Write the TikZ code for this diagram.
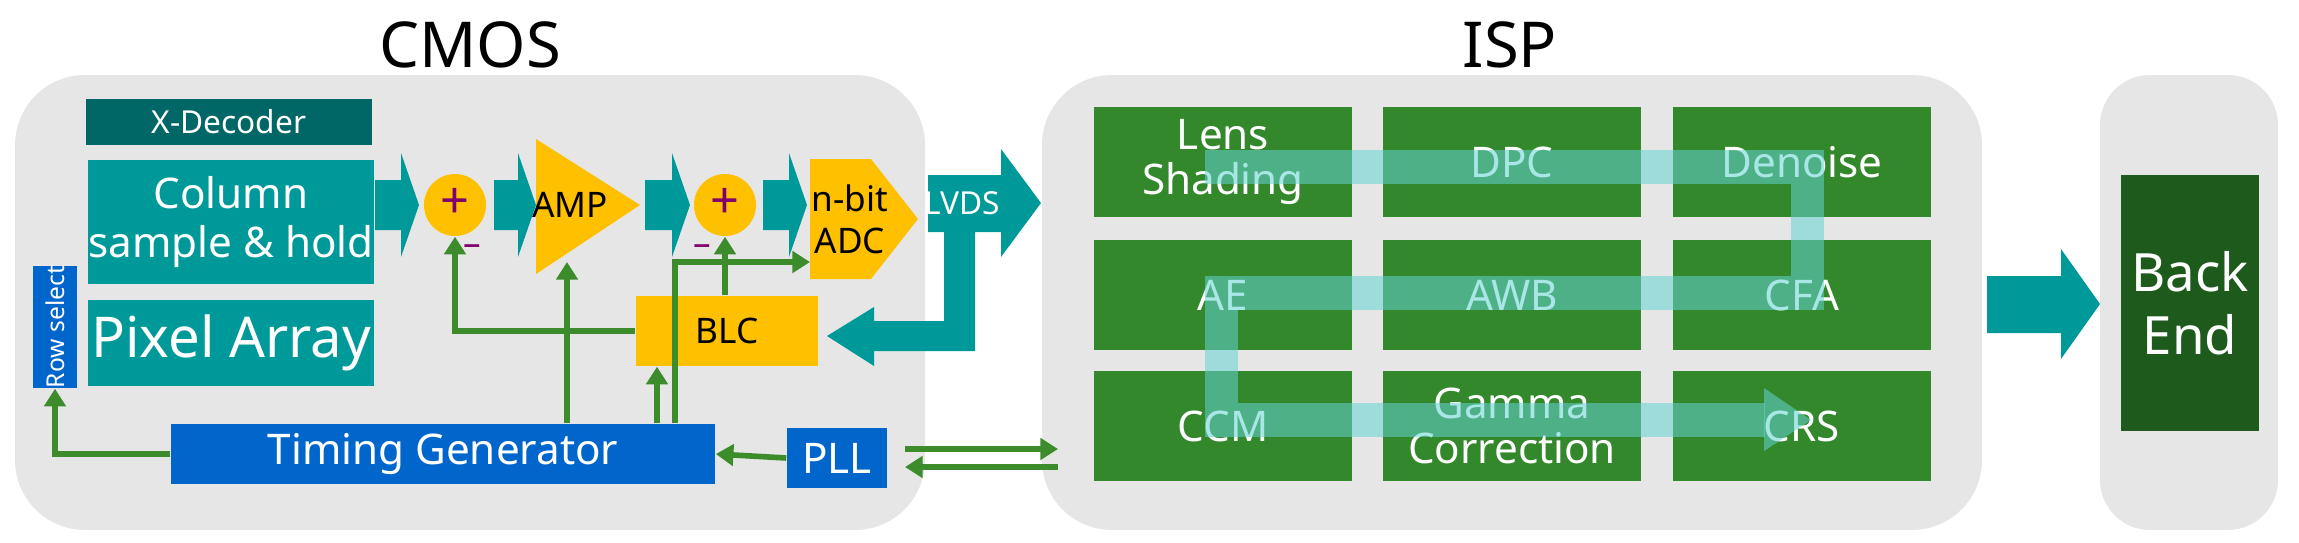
\documentclass[tikz,border=0pt]{standalone}
\usepackage{fontspec}
\setmainfont{Noto Sans}
\usetikzlibrary{shapes.geometric,arrows.meta,positioning,calc}
\definecolor{panel}{RGB}{230,230,230}
\definecolor{teal1}{RGB}{0,153,153}
\definecolor{tealdk}{RGB}{0,102,102}
\definecolor{amber}{RGB}{255,192,0}
\definecolor{blue1}{RGB}{0,102,204}
\definecolor{ispgreen}{RGB}{52,136,44}
\definecolor{bkgreen}{RGB}{30,90,28}
\definecolor{wire}{RGB}{60,140,44}
\definecolor{plum}{RGB}{128,0,110}
\definecolor{band}{RGB}{100,210,210}
\begin{document}
\begin{tikzpicture}[x=0.01cm, y=-0.01cm, font=\bfseries]
	\tikzstyle{box} = [rectangle, text centered, inner sep=0pt, align=center]
	\tikzstyle{teal} = [box, fill=teal1, text=white]
	\tikzstyle{isp} = [box, fill=ispgreen, text=white, minimum width=2.57cm, minimum height=1.1cm, font=\bfseries\fontsize{12}{13}\selectfont]
	\tikzstyle{sum} = [circle, fill=amber, minimum size=0.62cm, inner sep=0pt]
	\tikzstyle{sig} = [wire, line width=1.6pt, -{Triangle[length=5pt,width=6pt]}]
	\useasboundingbox (0,0) rectangle (2299,542);
	% panels
	\fill[panel, rounded corners=0.7cm] (15,75) rectangle (925,530);
	\fill[panel, rounded corners=0.7cm] (1042,75) rectangle (1982,530);
	\fill[panel, rounded corners=0.5cm] (2100,75) rectangle (2278,530);
	\node[font=\bfseries\fontsize{18}{20}\selectfont] (cmos) at (470,45) {CMOS};
	\node[font=\bfseries\fontsize{18}{20}\selectfont] (ispt) at (1510,45) {ISP};
	% CMOS blocks
	\node (xdec) [box, fill=tealdk, text=white, minimum width=2.86cm, minimum height=0.45cm, font=\bfseries\small] at (229,122) {X-Decoder};
	\node (col) [teal, minimum width=2.85cm, minimum height=1.23cm, font=\bfseries\large] at (231,222) {Column\\sample \& hold};
	\node (pix) [teal, minimum width=2.85cm, minimum height=0.86cm, font=\bfseries\fontsize{16}{18}\selectfont] at (231,343) {Pixel Array};
	\node (row) [box, fill=blue1, text=white, minimum width=1.19cm, minimum height=0.44cm, rotate=90, font=\bfseries\scriptsize] at (55,327) {Row select};
	\node (sumA) [sum] at (455,205) {};
	\node (sumB) [sum] at (725,205) {};
	\node[text=plum, font=\bfseries\Large] at (455,203) {+};
	\node[text=plum, font=\bfseries\Large] at (725,203) {+};
	\node[text=plum] at (472,250) {--};
	\node[text=plum] at (702,250) {--};
	\fill[amber] (536,139) -- (640,205) -- (536,274) -- cycle;
	\node (amp) at (570,205) {AMP};
	\fill[amber] (810,159) -- (871,159) -- (918,219) -- (871,279) -- (810,279) -- cycle;
	\node (adc) [align=center] at (850,219) {n-bit\\ADC};
	\node (blc) [box, fill=amber, minimum width=1.82cm, minimum height=0.7cm] at (727,331) {BLC};
	\node (tg) [box, fill=blue1, text=white, minimum width=5.44cm, minimum height=0.6cm, font=\bfseries\large] at (443,454) {Timing Generator};
	\node (pll) [box, fill=blue1, text=white, minimum width=1cm, minimum height=0.59cm, font=\bfseries\large] at (837,458) {PLL};
	% fat teal arrows
	\foreach \a/\b in {375/419, 494/536, 645/690, 763/807}
		\fill[teal1] (\a,180) -- ({\b-18},180) -- ({\b-18},153) -- (\b,205) -- ({\b-18},257) -- ({\b-18},230) -- (\a,230) -- cycle;
	\fill[teal1] (928,175) -- (1001,175) -- (1001,149) -- (1041,203) -- (1001,257) -- (1001,232) -- (975,232) -- (975,351)
		-- (874,351) -- (874,366) -- (827,336) -- (874,307) -- (874,321) -- (944,321) -- (944,232) -- (928,232) -- cycle;
	\node[text=white, font=\bfseries\small] (lvds) at (962,203) {LVDS};
	\fill[teal1] (1987,276) -- (2061,276) -- (2061,249) -- (2100,304) -- (2061,359) -- (2061,333) -- (1987,333) -- cycle;
	% control wires
	\draw[sig] (blc.west) -| (sumA.south);
	\draw[sig] (blc.north -| sumB) -- (sumB.south);
	\draw[sig] (tg.north -| 567,0) -- (567,262);
	\draw[sig] (tg.north -| 657,0) -- (blc.south -| 657,0);
	\draw[sig] (tg.north -| 675,0) |- (810,262);
	\draw[sig] (tg.west) -| (row.west);
	\draw[sig] (pll.west) -- (tg.east);
	\draw[sig] (905,449) -- (1058,449);
	\draw[sig] (1058,467) -- (905,467);
	% ISP grid
	\node (ls) [isp] at (1223,162) {Lens\\Shading};
	\node (dpc) [isp] at (1512,162) {DPC};
	\node (dn) [isp] at (1802,162) {Denoise};
	\node (ae) [isp] at (1223,295) {AE};
	\node (awb) [isp] at (1512,295) {AWB};
	\node (cfa) [isp] at (1802,295) {CFA};
	\node (ccm) [isp] at (1223,426) {CCM};
	\node (gam) [isp] at (1512,426) {Gamma\\Correction};
	\node (crs) [isp] at (1802,426) {CRS};
	\draw[band, opacity=0.55, line width=0.33cm] (1205,167) -- (1807,167) -- (1807,293) -- (1221,293) -- (1221,420) -- (1765,420);
	\fill[band, opacity=0.55] (1764,388) -- (1811,420) -- (1764,451) -- cycle;
	\node (be) [box, fill=bkgreen, text=white, minimum width=1.37cm, minimum height=2.56cm, font=\bfseries\fontsize{15}{18}\selectfont] at (2190,303) {Back\\End};
\end{tikzpicture}
\end{document}
